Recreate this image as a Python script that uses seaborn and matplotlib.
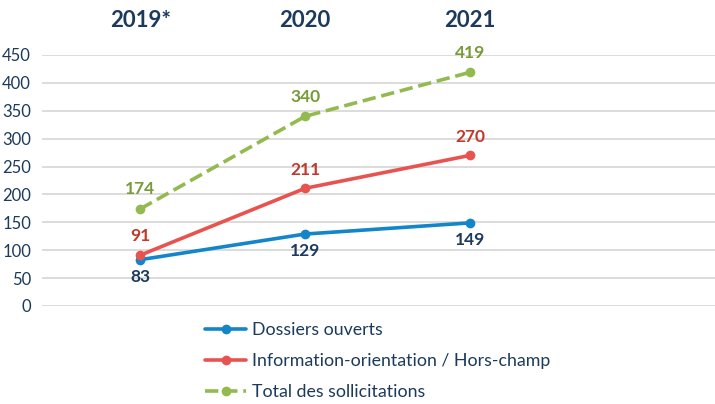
import numpy as np
import pandas as pd
import matplotlib.pyplot as plt
import seaborn as sns

years = ['2019*', '2020', '2021']
dossiers = [83, 129, 149]
information = [91, 211, 270]
total = [174, 340, 419]

series_names = ['Dossiers ouverts', 'Information-orientation / Hors-champ',
                'Total des sollicitations']
line_colors = ['#1386C9', '#E8524F', '#93BA4F']
label_colors = ['#1B3A5C', '#C0392B', '#789B3A']

df = pd.DataFrame({
    'x': np.tile(np.arange(len(years)), 3),
    'value': dossiers + information + total,
    'serie': np.repeat(series_names, len(years)),
})

sns.set_theme(style='white')
plt.rcParams['font.family'] = ['Lato', 'DejaVu Sans']

fig = plt.figure(figsize=(7.15, 4.04), dpi=100)
ax = fig.add_axes([0.059, 0.2426, 0.941, 0.6213])

for ytick in range(0, 451, 50):
    ax.axhline(ytick, color='#D9D9D9', lw=1.3, zorder=0)

for name, lc in zip(series_names, line_colors):
    sub = df[df['serie'] == name]
    sns.lineplot(data=sub, x='x', y='value', ax=ax, color=lc, lw=2.6,
                 marker='o', markersize=7, markeredgewidth=0, label=name,
                 linestyle='--' if name.startswith('Total') else '-')

# data labels (blue below, red/green above)
offsets = [-12.5, 13.5, 14]
for vals, lab_c, dy in zip([dossiers, information, total], label_colors, offsets):
    for i, v in enumerate(vals):
        ax.annotate(str(v), (i, v), xytext=(0, dy), textcoords='offset points',
                    ha='center', va='center', fontsize=12.5, fontweight='bold',
                    color=lab_c)

ax.set_xlim(-0.594, 3.485)
ax.set_ylim(0, 450)
ax.set_xticks(range(len(years)))
ax.set_xticklabels(years)
ax.xaxis.tick_top()
ax.tick_params(axis='x', length=0, pad=17, labelsize=16, labelcolor='#1B3A5C')
for t in ax.get_xticklabels():
    t.set_fontweight('bold')
ax.set_yticks(range(0, 451, 50))
ax.tick_params(axis='y', length=0, pad=8, labelsize=12, labelcolor='#1B3A5C')
ax.set_xlabel('')
ax.set_ylabel('')
for s in ax.spines.values():
    s.set_visible(False)

leg = ax.legend(loc='upper left', bbox_to_anchor=(0.232, -0.035), frameon=False,
                fontsize=12.8, handlelength=2.3, labelspacing=0.85, handletextpad=0.3,
                borderaxespad=0)
for t in leg.get_texts():
    t.set_color('#1B3A5C')

fig.savefig('out.png', dpi=100)
